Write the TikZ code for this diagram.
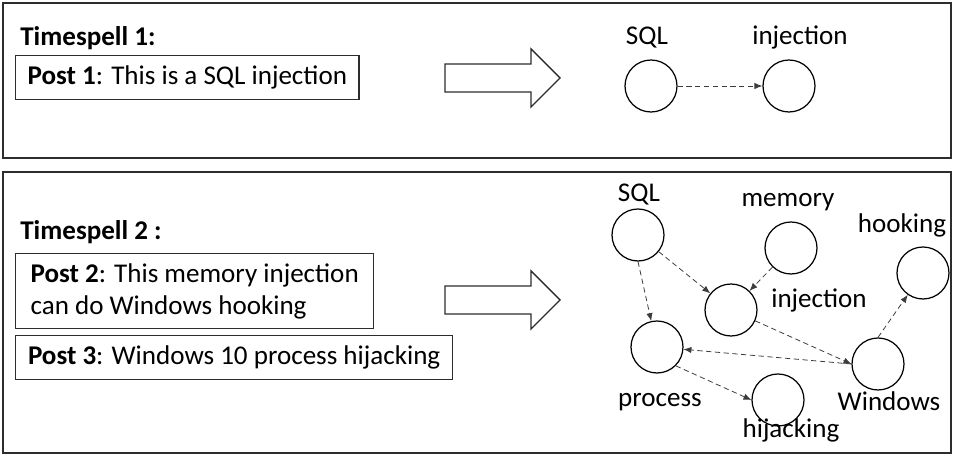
\documentclass[tikz,border=0pt]{standalone}
\usepackage{fontspec}
\setmainfont{Carlito}
\usetikzlibrary{arrows.meta, positioning}
\definecolor{framegray}{RGB}{45, 45, 45}
\definecolor{linkgray}{RGB}{60, 60, 60}

\begin{document}
\begin{tikzpicture}[
    x=0.02cm, y=-0.02cm,
    panel/.style={draw=framegray, line width=1.2pt},
    post/.style={draw=framegray, line width=0.8pt, anchor=north west, align=left, inner xsep=0.24cm, inner ysep=0pt, font=\fontsize{15.4}{18.3}\selectfont},
    title/.style={anchor=base west, inner sep=0pt, font=\fontsize{15.4}{18.3}\selectfont\bfseries},
    term/.style={circle, draw=black, line width=0.7pt, minimum size=1.04cm, inner sep=0pt},
    termlabel/.style={anchor=base, inner sep=0pt, font=\fontsize{15.4}{18.3}\selectfont},
    link/.style={draw=linkgray, densely dashed, line width=0.45pt, -{Latex[length=4.5pt,width=3.6pt]}},
    bigarrow/.style={draw=framegray, line width=0.8pt, fill=white}
]
    \useasboundingbox (0,0) rectangle (954,455);

    % Panels
    \draw[panel] (3,3) rectangle (951,158);
    \draw[panel] (3,172) rectangle (951,453);

    % Timespell 1
    \node[title] (ts1) at (20,46) {Timespell 1:};
    \node[post, minimum width=6.84cm, minimum height=0.88cm] (post1) at (15,55) {\textbf{Post 1}: This is a SQL injection};

    % Timespell 2
    \node[title] (ts2) at (20,240) {Timespell 2 :};
    \node[post, minimum width=7.16cm, minimum height=1.5cm] (post2) at (15,253) {\textbf{Post 2}: This memory injection\\can do Windows hooking};
    \node[post, minimum width=8.74cm, minimum height=0.88cm] (post3) at (15,335) {\textbf{Post 3}: Windows 10 process hijacking};

    % Block arrows
    \foreach \y in {78,300}
        \draw[bigarrow] (445,\y) ++(0,-14) -- ++(86,0) -- ++(0,-15) -- ++(29,29)
            -- ++(-29,29) -- ++(0,-15) -- ++(-86,0) -- cycle;

    % Graph 1
    \node[term] (sqlA) at (651,86) {};
    \node[term] (injA) at (789,86) {};
    \node[termlabel] (sqlA-lbl) at (647,45) {SQL};
    \node[termlabel] (injA-lbl) at (800,45) {injection};
    \draw[link] (sqlA) -- (injA);

    % Graph 2
    \node[term] (sqlB) at (638,235) {};
    \node[term] (memB) at (791,248) {};
    \node[term] (hookB) at (923,273) {};
    \node[term] (injB) at (731,310) {};
    \node[term] (procB) at (657,347) {};
    \node[term] (winB) at (878,364) {};
    \node[term] (hijB) at (778,400) {};

    \node[termlabel] (sqlB-lbl) at (639,202) {SQL};
    \node[termlabel] (memB-lbl) at (788,207) {memory};
    \node[termlabel] (hookB-lbl) at (902,233) {hooking};
    \node[termlabel] (injB-lbl) at (819,308) {injection};
    \node[termlabel] (procB-lbl) at (660,407) {process};
    \node[termlabel] (winB-lbl) at (889,411) {Windows};
    \node[termlabel] (hijB-lbl) at (791,438) {hijacking};

    \draw[link] (sqlB) -- (injB);
    \draw[link] (sqlB.south) -- (procB);
    \draw[link] (memB) -- (injB);
    \draw[link] (injB) -- (winB.west);
    \draw[link] (winB.west) -- (procB);
    \draw[link] (winB.north) -- (hookB);
    \draw[link] (procB.south east) -- (hijB.west);
\end{tikzpicture}
\end{document}
